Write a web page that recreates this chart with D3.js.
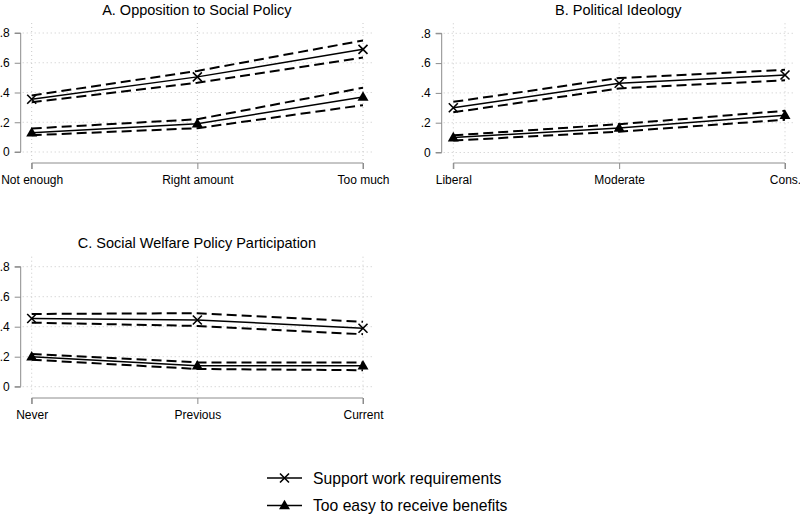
<!DOCTYPE html>
<html><head><meta charset="utf-8">
<script src="https://cdn.jsdelivr.net/npm/d3@7"></script>
<style>body{margin:0;background:#fff}svg{display:block}</style>
</head><body><svg id="c" width="800" height="517"></svg>
<script>
// ---------- data ----------
const yTicks = [0, 0.2, 0.4, 0.6, 0.8];
const yTickLabels = ["0", ".2", ".4", ".6", ".8"];

const titleA = "A. Opposition to Social Policy";
const catsA = ["Not enough", "Right amount", "Too much"];
const workA = [0.355, 0.505, 0.69];
const workLoA = [0.335, 0.465, 0.635];
const workHiA = [0.38, 0.545, 0.75];
const easyA = [0.13, 0.19, 0.37];
const easyLoA = [0.113, 0.16, 0.315];
const easyHiA = [0.158, 0.22, 0.432];

const titleB = "B. Political Ideology";
const catsB = ["Liberal", "Moderate", "Cons."];
const workB = [0.30, 0.465, 0.52];
const workLoB = [0.27, 0.43, 0.485];
const workHiB = [0.34, 0.50, 0.555];
const easyB = [0.10, 0.165, 0.25];
const easyLoB = [0.08, 0.14, 0.22];
const easyHiB = [0.115, 0.19, 0.28];

const titleC = "C. Social Welfare Policy Participation";
const catsC = ["Never", "Previous", "Current"];
const workC = [0.455, 0.445, 0.39];
const workLoC = [0.427, 0.405, 0.35];
const workHiC = [0.485, 0.49, 0.433];
const easyC = [0.20, 0.14, 0.14];
const easyLoC = [0.18, 0.118, 0.11];
const easyHiC = [0.218, 0.162, 0.162];

const legendLabels = ["Support work requirements", "Too easy to receive benefits"];

// ---------- layout ----------
const panels = [
  {title: titleA, cats: catsA, work: workA, workLo: workLoA, workHi: workHiA, easy: easyA, easyLo: easyLoA, easyHi: easyHiA,
   axisX: 20.7, x0: 31.7, x1: 363, y0: 152, y8: 33, xAxisY: 163, titleY: 15},
  {title: titleB, cats: catsB, work: workB, workLo: workLoB, workHi: workHiB, easy: easyB, easyLo: easyLoB, easyHi: easyHiB,
   axisX: 441.7, x0: 453.3, x1: 785, y0: 152.5, y8: 33.3, xAxisY: 163, titleY: 15},
  {title: titleC, cats: catsC, work: workC, workLo: workLoC, workHi: workHiC, easy: easyC, easyLo: easyLoC, easyHi: easyHiC,
   axisX: 20.7, x0: 31.7, x1: 363, y0: 386.7, y8: 266.7, xAxisY: 398, titleY: 248}
];

const svg = d3.select("#c");
const FONT = "'Liberation Sans', Arial, sans-serif";
const axisCol = "#8c8c8c";
const gridCol = "#c8c8c8";

function xMarker(g, cx, cy, s) {
  g.append("path").attr("d", `M${cx-s},${cy-s}L${cx+s},${cy+s}M${cx-s},${cy+s}L${cx+s},${cy-s}`)
    .attr("stroke", "#000").attr("stroke-width", 1.6).attr("fill", "none");
}
function triMarker(g, cx, cy, s) {
  g.append("path").attr("d", `M${cx},${cy-s*1.05}L${cx+s},${cy+s*0.7}L${cx-s},${cy+s*0.7}Z`)
    .attr("fill", "#000");
}

panels.forEach(p => {
  const g = svg.append("g");
  const x = d3.scalePoint().domain(p.cats).range([p.x0, p.x1]);
  const y = d3.scaleLinear().domain([0, 0.8]).range([p.y0, p.y8]);
  const right = p.x1 + 10, top = p.y8 - 10, bottom = p.y0 + 8;

  // grid
  g.selectAll(".hg").data(yTicks).enter().append("line")
    .attr("x1", p.axisX + 2).attr("x2", right).attr("y1", d => y(d)).attr("y2", d => y(d))
    .attr("stroke", gridCol).attr("stroke-width", 1).attr("stroke-dasharray", "1,3");
  g.selectAll(".vg").data(p.cats).enter().append("line")
    .attr("x1", d => x(d)).attr("x2", d => x(d)).attr("y1", top).attr("y2", bottom)
    .attr("stroke", gridCol).attr("stroke-width", 1).attr("stroke-dasharray", "1,3");

  // y axis
  const ya = g.append("g").attr("transform", `translate(${p.axisX},0)`)
    .call(d3.axisLeft(y).tickValues(yTicks).tickFormat((d, i) => yTickLabels[i]).tickSize(6).tickPadding(5));
  ya.select(".domain").attr("stroke", axisCol).attr("d", `M-6,${y(0.8)}H0V${y(0)}H-6`);
  ya.selectAll(".tick line").attr("stroke", axisCol);
  ya.selectAll("text").attr("font-family", FONT).attr("font-size", 12).attr("fill", "#000");

  // x axis
  const xa = g.append("g").attr("transform", `translate(0,${p.xAxisY})`)
    .call(d3.axisBottom(x).tickSize(6).tickPadding(6));
  xa.select(".domain").attr("stroke", axisCol).attr("d", `M${p.x0},6V0H${p.x1}V6`);
  xa.selectAll(".tick line").attr("stroke", axisCol);
  xa.selectAll("text").attr("font-family", FONT).attr("font-size", 12).attr("fill", "#000");

  // title
  g.append("text").attr("x", (p.axisX + right) / 2).attr("y", p.titleY).attr("text-anchor", "middle")
    .attr("font-family", FONT).attr("font-size", 14.5).text(p.title);

  const line = d3.line().x((d, i) => x(p.cats[i])).y(d => y(d));
  [p.workLo, p.workHi, p.easyLo, p.easyHi].forEach(arr => {
    g.append("path").attr("d", line(arr)).attr("fill", "none").attr("stroke", "#000")
      .attr("stroke-width", 2).attr("stroke-dasharray", "10,5");
  });
  [p.work, p.easy].forEach(arr => {
    g.append("path").attr("d", line(arr)).attr("fill", "none").attr("stroke", "#000").attr("stroke-width", 1.5);
  });
  p.work.forEach((v, i) => xMarker(g, x(p.cats[i]), y(v), 4.5));
  p.easy.forEach((v, i) => triMarker(g, x(p.cats[i]), y(v), 5.5));
});

// legend
const lg = svg.append("g");
legendLabels.forEach((lab, i) => {
  const cy = 478 + i * 27.5;
  lg.append("line").attr("x1", 267).attr("x2", 302).attr("y1", cy).attr("y2", cy).attr("stroke", "#000").attr("stroke-width", 1.5);
  if (i === 0) xMarker(lg, 284.5, cy, 4.5); else triMarker(lg, 284.5, cy, 5.5);
  lg.append("text").attr("x", 313).attr("y", cy + 5.5).attr("font-family", FONT).attr("font-size", 15.7).text(lab);
});
</script>
</body></html>
